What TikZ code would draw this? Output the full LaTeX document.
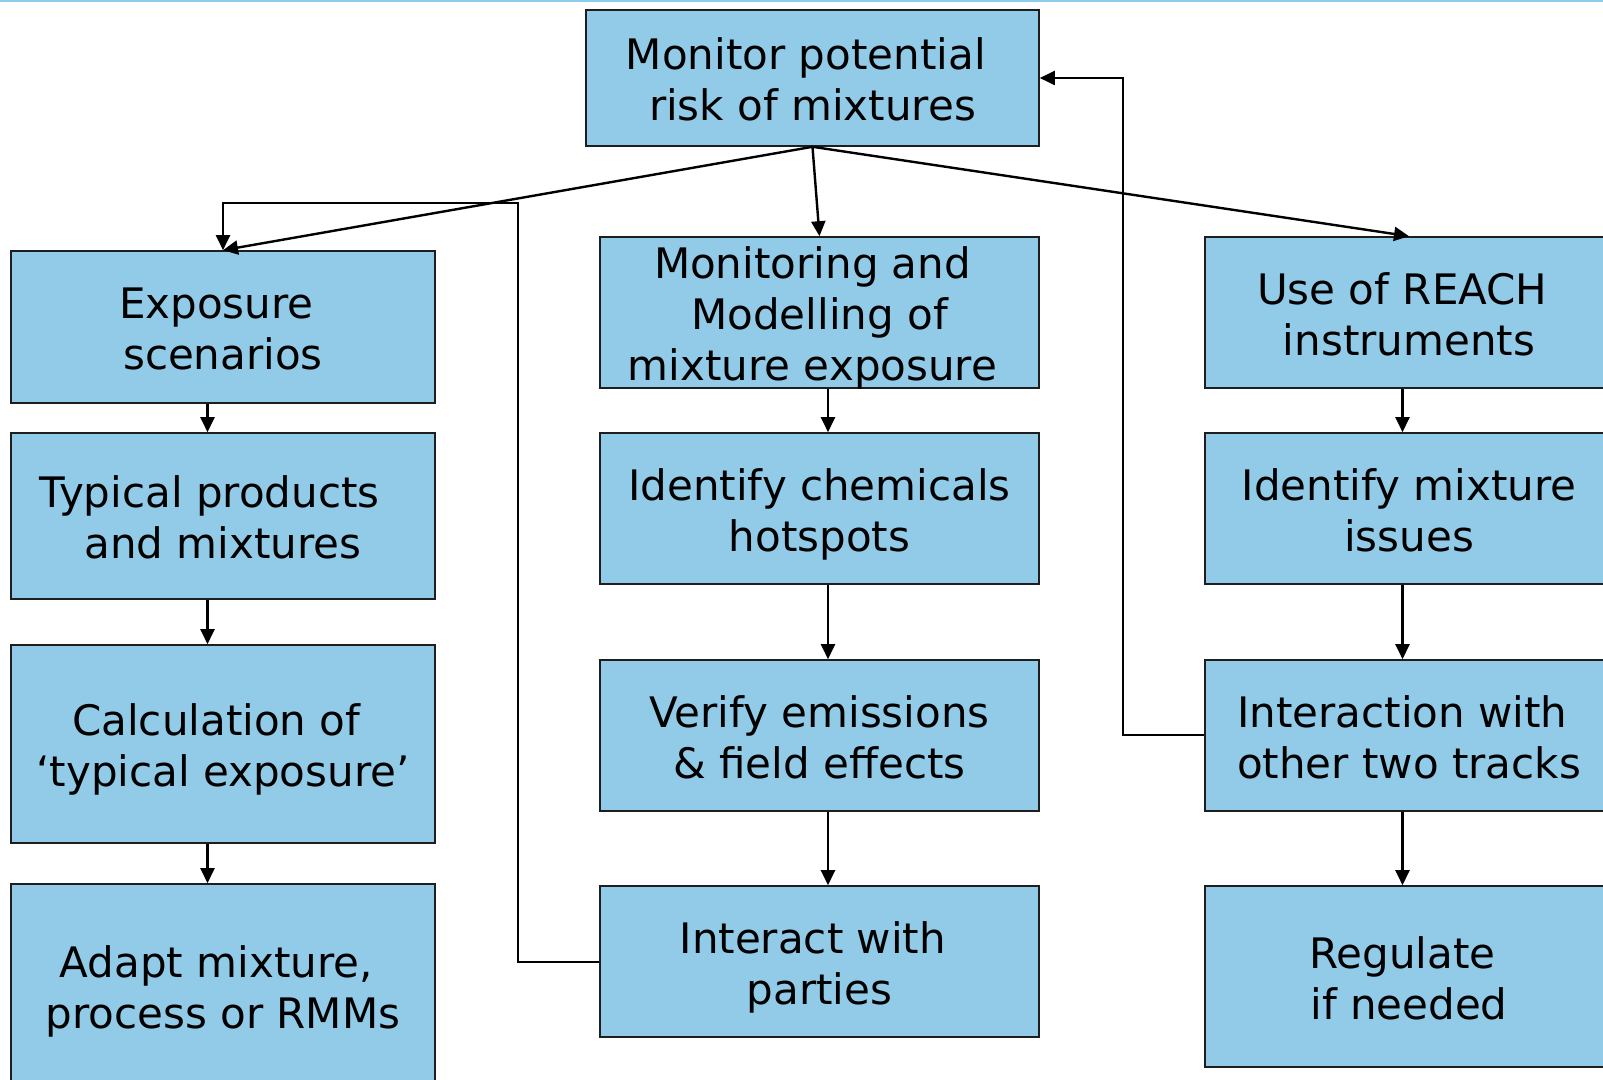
\documentclass[tikz,border=0pt]{standalone}
\usepackage{fontspec}
\setmainfont{DejaVu Sans}
\usetikzlibrary{arrows.meta,calc}
\definecolor{boxfill}{RGB}{146,203,232}
\definecolor{topline}{RGB}{140,205,238}
\definecolor{boxline}{RGB}{30,30,30}
\newcommand{\tsp}{\hspace*{0.318em}}
\newcommand{\bs}{\rule{0pt}{23.5pt}}
\newcommand{\es}{\rule[-6pt]{0pt}{6pt}}
\begin{document}
\begin{tikzpicture}[x=0.5pt,y=-0.5pt,
  box/.style={draw=boxline,line width=0.8pt,fill=boxfill,inner sep=0pt,align=center,
    font=\fontsize{21}{25.5}\selectfont},
  boxtext/.style={inner sep=0pt,align=center,font=\fontsize{21}{25.5}\selectfont},
  arr/.style={draw=black,line width=1.2pt,-{Triangle[length=7.5pt,width=7pt]}},
  fbline/.style={draw=black,line width=1.0pt,-{Triangle[length=7.5pt,width=7pt]}}]
\useasboundingbox (0,0) rectangle (1603,1080);
\clip (0,0) rectangle (1603,1080);
\fill[white] (0,0) rectangle (1603,1080);
\draw[topline,line width=1.2pt] (0,1) -- (1603,1);

% top
\node[box,minimum width=226.5pt,minimum height=68pt] (top) at (812.5,78) {\bs Monitor potential\tsp\\risk of mixtures\es};
% left column
\node[box,minimum width=212pt,minimum height=76pt] (L1) at (223,327) {\bs Exposure\tsp\\scenarios\es};
\node[box,minimum width=212pt,minimum height=83pt] (L2) at (223,516) {\bs Typical products\tsp\tsp\\and mixtures\es};
\node[box,minimum width=212pt,minimum height=99pt] (L3) at (223,744) {\bs Calculation of\tsp\\‘typical exposure’\es};
\node[box,minimum width=212pt,minimum height=101pt] (L4) at (223,985) {\bs Adapt mixture,\tsp\\process or RMMs\es};
% middle column
\node[box,minimum width=219.5pt,minimum height=75.5pt] (M1) at (819.5,312.5) {};
\node[boxtext] (M1t) at (M1.center) {\bs Monitoring and\hspace*{7pt}\\Modelling of\hspace*{7pt}\\mixture exposure\hspace*{7pt}\es};
\node[box,minimum width=219.5pt,minimum height=75.5pt] (M2) at (819.5,508.5) {\bs Identify chemicals\\hotspots\es};
\node[box,minimum width=219.5pt,minimum height=75.5pt] (M3) at (819.5,735.5) {\bs Verify emissions\\\&\ field effects\es};
\node[box,minimum width=219.5pt,minimum height=75.5pt] (M4) at (819.5,961.5) {\bs Interact with\tsp\\parties\es};
% right column
\node[box,minimum width=204pt,minimum height=75.5pt] (R1) at (1409,312.5) {\bs Use of REACH\tsp\\instruments\es};
\node[box,minimum width=204pt,minimum height=75.5pt] (R2) at (1409,508.5) {\bs Identify mixture\\issues\es};
\node[box,minimum width=204pt,minimum height=75.5pt] (R3) at (1409,735.5) {\bs Interaction with\tsp\\other two tracks\es};
\node[box,minimum width=204pt,minimum height=90.5pt] (R4) at (1409,976.5) {\bs Regulate\tsp\\if needed\es};

\coordinate (lx) at (207.5,0);
\coordinate (mx) at (828,0);
\coordinate (rx) at (1402.5,0);
\coordinate (fb1) at (518,203);
\coordinate (fb2) at (1122.5,78);

% from top
\draw[arr] (top.south) -- (L1.north);
\draw[arr] (top.south) -- (M1.north);
\draw[arr] (top.south) -- (R1.north);
% columns
\draw[arr] (L1.south -| lx) -- (L2.north -| lx);
\draw[arr] (L2.south -| lx) -- (L3.north -| lx);
\draw[arr] (L3.south -| lx) -- (L4.north -| lx);
\draw[arr] (M1.south -| mx) -- (M2.north -| mx);
\draw[arr] (M2.south -| mx) -- (M3.north -| mx);
\draw[arr] (M3.south -| mx) -- (M4.north -| mx);
\draw[arr] (R1.south -| rx) -- (R2.north -| rx);
\draw[arr] (R2.south -| rx) -- (R3.north -| rx);
\draw[arr] (R3.south -| rx) -- (R4.north -| rx);
% feedback
\draw[fbline] (M4.west) -| (fb1) -| (L1.north);
\draw[fbline] (R3.west) -| (fb2) -- (top.east);
\end{tikzpicture}
\end{document}
